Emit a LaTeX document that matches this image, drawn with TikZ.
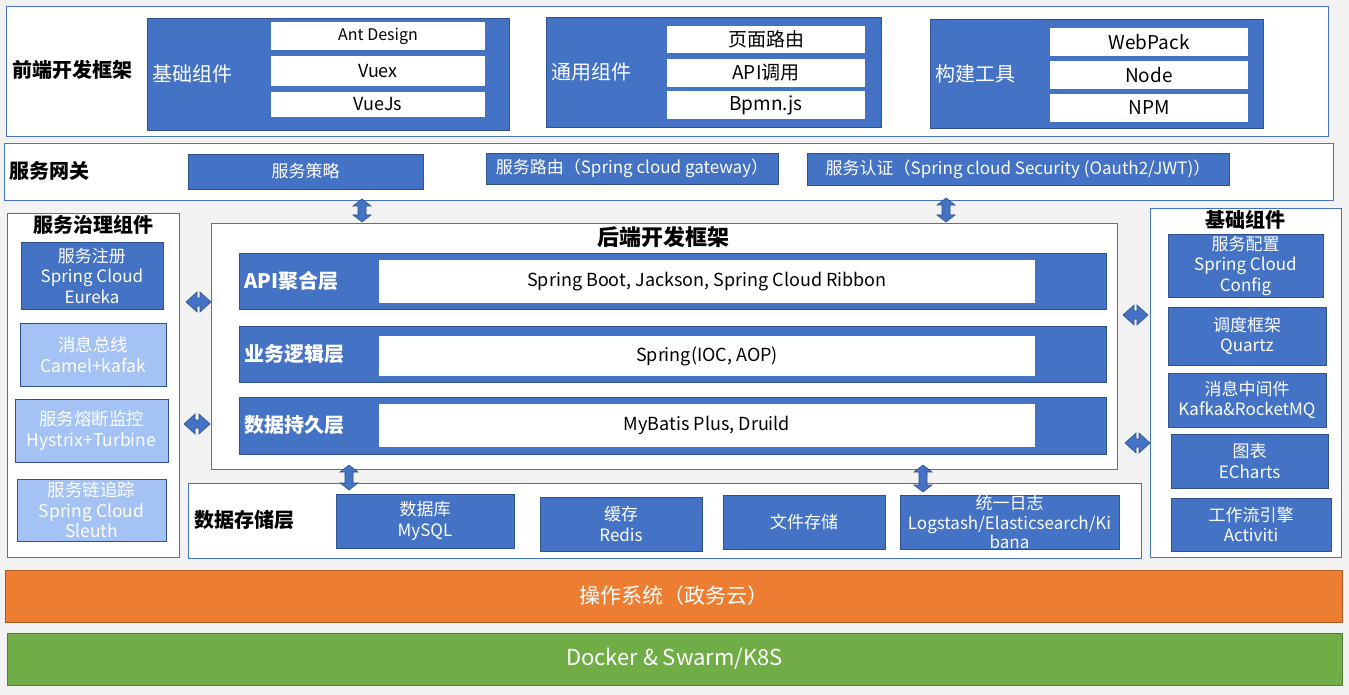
\documentclass[tikz,border=0pt]{standalone}
\usepackage{fontspec}
\setmainfont{Noto Sans CJK SC}
\definecolor{bgC}{HTML}{F2F2F2}
\definecolor{frameC}{HTML}{4472C4}
\definecolor{blueF}{HTML}{4472C4}
\definecolor{blueD}{HTML}{2F528F}
\definecolor{lightF}{HTML}{A4C2F4}
\definecolor{orangeF}{HTML}{ED7D31}
\definecolor{orangeD}{HTML}{AE5A21}
\definecolor{greenF}{HTML}{70AD47}
\definecolor{greenD}{HTML}{507E32}
\newcommand\fs[2]{\fontsize{#1}{#2}\selectfont}
\newcommand\bx[7]{\node[#2, minimum width={(#5-#3)*1pt}, minimum height={(#6-#4)*1pt}] (#1) at ({(#3+#5)/2},{(#4+#6)/2}) {#7};}
\newcommand\vda[3]{\filldraw[darr] (#1,#2) -- ({#1+9},{#2+7}) -- ({#1+4},{#2+7}) -- ({#1+4},{#3-7}) -- ({#1+9},{#3-7}) -- (#1,#3) -- ({#1-9},{#3-7}) -- ({#1-4},{#3-7}) -- ({#1-4},{#2+7}) -- ({#1-9},{#2+7}) -- cycle;}
\newcommand\hda[3]{\filldraw[darr] (#2,#1) -- ({#2+11},{#1-10}) -- ({#2+11},{#1-4}) -- ({#3-11},{#1-4}) -- ({#3-11},{#1-10}) -- (#3,#1) -- ({#3-11},{#1+10}) -- ({#3-11},{#1+4}) -- ({#2+11},{#1+4}) -- ({#2+11},{#1+10}) -- cycle;}
\begin{document}
\begin{tikzpicture}[x=1pt,y=-1pt,
  base/.style={inner sep=0pt, outer sep=0pt, align=center, line width=0.9pt},
  frame/.style={base, draw=frameC, fill=white, line width=0.8pt},
  bluebox/.style={base, draw=blueD, fill=blueF, text=white, font=\fs{17}{20.5}},
  lightbox/.style={base, draw=blueD, fill=lightF, text=white, font=\fs{17.5}{20.5}},
  whitebox/.style={base, fill=white, text=black, font=\fs{19}{22}},
  title/.style={inner sep=0pt, font=\bfseries\fs{20}{23}, text=black},
  wlabel/.style={inner sep=0pt, anchor=west, text=white, font=\fs{20}{23}},
  blabel/.style={inner sep=0pt, anchor=west, text=white, font=\bfseries\fs{20}{23}},
  darr/.style={fill=blueF, draw=blueD, line width=0.6pt, line join=miter}]
\fill[bgC] (0,0) rectangle (1349,695);
\useasboundingbox (0,0) rectangle (1349,695);

% ---------- frontend ----------
\bx{fe}{frame}{6}{6}{1328}{136}{}
\node[title, anchor=west] (feT) at (12,70) {前端开发框架};
\bx{fe1}{bluebox}{147}{18}{509}{130}{}
\node[wlabel] (fe1T) at (152,74) {基础组件};
\bx{fe1a}{whitebox, font=\fs{16}{19}}{271}{22}{485}{50}{Ant Design}
\bx{fe1b}{whitebox, font=\fs{18}{21}}{271}{56}{485}{86}{Vuex}
\bx{fe1c}{whitebox, font=\fs{18}{21}}{271}{92}{485}{117}{VueJs}
\bx{fe2}{bluebox}{546}{17}{881}{127}{}
\node[wlabel] (fe2T) at (551,72) {通用组件};
\bx{fe2a}{whitebox}{667}{26}{865}{53}{页面路由}
\bx{fe2b}{whitebox}{667}{59}{865}{87}{API调用}
\bx{fe2c}{whitebox}{667}{91}{865}{119}{Bpmn.js}
\bx{fe3}{bluebox}{930}{19}{1263}{128}{}
\node[wlabel] (fe3T) at (935,74) {构建工具};
\bx{fe3a}{whitebox}{1050}{28}{1248}{56}{WebPack}
\bx{fe3b}{whitebox}{1050}{61}{1248}{89}{Node}
\bx{fe3c}{whitebox}{1050}{94}{1248}{122}{NPM}

% ---------- gateway ----------
\bx{gw}{frame}{4}{143}{1333}{200}{}
\node[title, anchor=west] (gwT) at (9,171) {服务网关};
\bx{g1}{bluebox}{188}{154}{423}{189}{服务策略}
\bx{g2}{bluebox}{486}{153}{778}{184}{服务路由（Spring cloud gateway）}
\bx{g3}{bluebox}{807}{153}{1229}{185}{服务认证（Spring cloud Security (Oauth2/JWT)）}

% ---------- left column ----------
\bx{lc}{frame}{7}{213}{179}{557}{}
\node[title] (lcT) at (93,225) {服务治理组件};
\bx{l1}{bluebox}{21}{242}{163}{309}{服务注册\\Spring Cloud\\Eureka}
\bx{l2}{lightbox}{20}{323}{166}{386}{消息总线\\Camel+kafak}
\bx{l3}{lightbox}{15}{399}{168}{462}{服务熔断监控\\Hystrix+Turbine}
\bx{l4}{lightbox}{17}{479}{166}{541}{服务链追踪\\Spring Cloud\\Sleuth}

% ---------- backend ----------
\bx{be}{frame}{211}{223}{1117}{469}{}
\node[title, font=\bfseries\fs{22}{25}] (beT) at (663,237) {后端开发框架};
\bx{b1}{bluebox}{239}{253}{1106}{309}{}
\node[blabel] (b1T) at (244,281) {API聚合层};
\bx{b1w}{whitebox, font=\fs{18}{21}}{379}{260}{1035}{303}{Spring Boot, Jackson, Spring Cloud Ribbon}
\bx{b2}{bluebox}{239}{326}{1106}{382}{}
\node[blabel] (b2T) at (244,354) {业务逻辑层};
\bx{b2w}{whitebox, font=\fs{18}{21}}{379}{336}{1035}{376}{Spring(IOC, AOP)}
\bx{b3}{bluebox}{239}{397}{1106}{454}{}
\node[blabel] (b3T) at (244,425) {数据持久层};
\bx{b3w}{whitebox, font=\fs{18}{21}}{379}{404}{1035}{447}{MyBatis Plus, Druild}

% ---------- right column ----------
\bx{rc}{frame}{1150}{208}{1341}{557}{}
\node[title] (rcT) at (1245,220) {基础组件};
\bx{r1}{bluebox}{1168}{234}{1323}{297}{服务配置\\Spring Cloud\\Config}
\bx{r2}{bluebox}{1168}{307}{1326}{365}{调度框架\\Quartz}
\bx{r3}{bluebox}{1168}{373}{1326}{427}{消息中间件\\Kafka\&RocketMQ}
\bx{r4}{bluebox}{1171}{434}{1328}{488}{图表\\ECharts}
\bx{r5}{bluebox}{1171}{498}{1331}{551}{工作流引擎\\Activiti}

% ---------- storage ----------
\bx{st}{frame}{188}{483}{1141}{558}{}
\node[title, anchor=west] (stT) at (194,520) {数据存储层};
\bx{s1}{bluebox}{336}{494}{514}{548}{数据库\\MySQL}
\bx{s2}{bluebox}{540}{497}{702}{551}{缓存\\Redis}
\bx{s3}{bluebox}{723}{495}{885}{549}{文件存储}
\bx{s4}{bluebox, font=\fs{17}{19.5}}{900}{495}{1119}{549}{统一日志\\Logstash/Elasticsearch/Ki\\bana}

% ---------- bottom bars ----------
\bx{os}{base, draw=orangeD, fill=orangeF, text=white, font=\fs{21}{24}}{5}{570}{1342}{622}{操作系统（政务云）}
\bx{dk}{base, draw=greenD, fill=greenF, text=white, font=\fs{22}{26}}{7}{633}{1342}{685}{Docker \& Swarm/K8S}

% ---------- block arrows ----------
\vda{362}{199}{222}
\vda{946}{198}{222}
\vda{349}{465}{490}
\vda{923}{465}{492}
\hda{302}{186}{211}
\hda{424}{184}{210}
\hda{315}{1123}{1148}
\hda{443}{1125}{1150}
\end{tikzpicture}
\end{document}
